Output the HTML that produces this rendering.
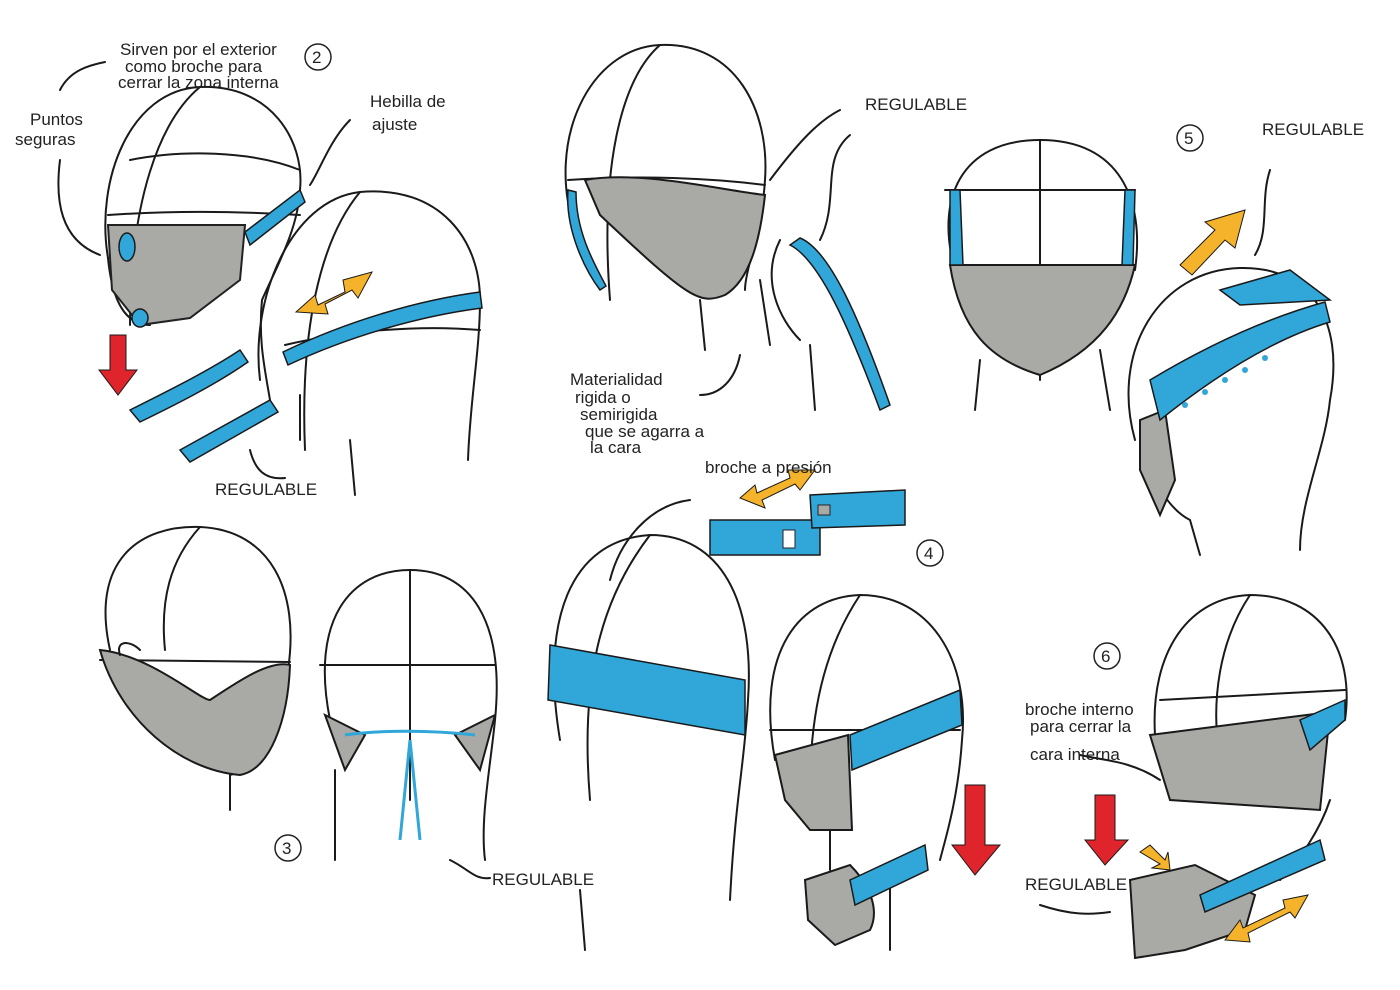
<!DOCTYPE html>
<html><head><meta charset="utf-8"><style>
html,body{margin:0;padding:0;background:#fff;}
svg{display:block;}
text{font-family:"Liberation Sans",sans-serif;fill:#222;font-size:17px;}
</style></head><body>
<svg width="1400" height="990" viewBox="0 0 1400 990" xmlns="http://www.w3.org/2000/svg">
<defs>
<marker id="d" viewBox="0 0 10 10" refX="5" refY="5" markerWidth="1" markerHeight="1"></marker>
</defs>
<rect width="1400" height="990" fill="#fff"/>
<g fill="none" stroke="#1a1a1a" stroke-width="2" stroke-linecap="round">

<!-- Head 1 -->
<path d="M108,258 C95,180 130,90 200,87 C270,84 305,140 300,190 C298,230 275,270 262,300 C258,340 265,370 270,400"/>
<path d="M200,87 C160,120 130,200 130,325 M130,160 C180,150 250,150 300,170 M108,215 C180,210 250,212 300,215"/>
<path d="M108,258 C112,300 125,325 150,325"/>
<path d="M108,225 L245,225 L240,280 L190,318 L140,325 L112,290 Z" fill="#a9a9a5" stroke="#222"/>
<!-- Head 2 -->
<path d="M260,380 C250,300 290,200 360,192 C440,185 480,240 480,300 C480,350 470,400 468,460"/>
<path d="M360,192 C320,240 300,330 305,450 M285,345 C350,330 420,325 480,330"/>
<path d="M350,440 L355,495 M300,395 L300,440"/>
<!-- Head 3 -->
<path d="M575,230 C545,140 590,48 660,45 C735,42 770,110 765,180 C762,230 745,270 745,290"/>
<path d="M660,45 C620,80 600,170 610,300 M568,180 C640,175 710,178 765,185 M700,300 L705,350 M760,280 L770,345"/>
<path d="M585,180 C640,170 720,190 765,195 C760,240 750,280 725,295 C700,305 690,300 600,215 Z" fill="#a9a9a5"/>
<path d="M780,240 C760,280 780,320 800,340 M810,345 L815,410 M770,180 C800,140 820,120 840,110"/>
<!-- Head 4 -->
<path d="M955,270 C935,200 960,140 1040,140 C1120,140 1145,200 1135,270"/>
<path d="M1040,140 L1040,380 M945,190 L1135,190 M950,265 L1135,265 M980,360 L975,410 M1100,350 L1110,410"/>
<path d="M950,265 L1135,265 C1125,310 1100,350 1040,375 C990,360 960,330 950,265 Z" fill="#a9a9a5"/>
<!-- Head 5 -->
<path d="M1135,440 C1110,350 1160,270 1240,268 C1310,266 1345,320 1330,400 C1325,450 1300,500 1300,550"/>
<path d="M1140,440 C1150,480 1170,510 1190,520 L1200,555"/>
<path d="M1140,420 L1165,410 L1175,480 L1160,515 L1140,470 Z" fill="#a9a9a5"/>
<!-- Head 6 -->
<path d="M110,650 C90,560 140,525 200,527 C270,530 300,590 288,670 C285,720 250,770 230,775 L230,810"/>
<path d="M200,527 C170,560 160,600 165,650 M100,660 L290,662"/>
<path d="M100,650 C150,655 200,700 210,700 C240,680 270,660 290,665 C288,720 270,770 240,775 C180,770 120,720 100,650 Z" fill="#a9a9a5"/>
<path d="M120,655 C115,640 130,640 140,650"/>
<!-- Head 7 -->
<path d="M330,720 C310,620 350,570 410,570 C470,570 505,620 495,720 C490,770 480,820 485,860"/>
<path d="M410,570 L410,800 M320,665 L495,665 M335,770 L335,860"/>
<path d="M325,715 L365,735 L345,770 Z M495,715 L455,735 L480,770 Z" fill="#a9a9a5"/>
<!-- Head 8 -->
<path d="M560,740 C540,620 570,540 650,535 C720,535 755,600 748,700 C745,760 735,800 730,900"/>
<path d="M650,535 C600,600 580,680 590,800 M580,890 L585,950"/>
<!-- Head 9 -->
<path d="M775,760 C755,650 800,597 860,595 C930,595 970,660 962,740 C958,800 945,840 940,860"/>
<path d="M860,595 C830,640 810,700 810,790 M770,730 L960,730 M830,830 L830,870 M890,880 L890,950"/>
<path d="M775,755 L848,735 L852,830 L810,830 L785,800 Z" fill="#a9a9a5"/>
<path d="M805,880 L850,865 C870,885 880,910 870,930 L835,945 L808,920 Z" fill="#a9a9a5"/>
<!-- Head 10 -->
<path d="M1155,735 C1150,650 1190,597 1250,595 C1320,595 1355,650 1345,720"/>
<path d="M1250,595 C1220,640 1210,700 1220,760 M1160,700 L1345,690"/>
<path d="M1150,735 L1330,712 L1320,810 L1170,800 Z" fill="#a9a9a5"/>
<path d="M1130,880 L1195,865 L1255,895 L1245,930 L1185,950 L1135,958 Z" fill="#a9a9a5"/>
<path d="M1280,880 C1300,860 1320,830 1330,800"/>
<!-- leader lines -->
<path d="M60,90 C70,70 90,65 105,62 M60,160 C55,200 60,240 100,255 M350,120 C330,140 320,170 310,185 M250,450 C255,470 265,480 285,478 M450,860 C470,870 475,880 490,878 M850,135 C820,160 840,200 820,240 M740,355 C735,380 720,395 700,395 M1270,170 C1260,200 1270,230 1255,255 M690,500 C650,505 620,540 610,580 M1040,905 C1070,915 1090,915 1110,912 M1080,755 C1100,760 1130,760 1160,780"/>
</g>

<!-- blue straps -->
<g fill="#31a6d9" stroke="#1a1a1a" stroke-width="1.5">
<ellipse cx="127" cy="247" rx="8" ry="14"/>
<ellipse cx="140" cy="318" rx="8" ry="9"/>
<path d="M245,232 L300,190 L305,202 L250,245 Z"/>
<path d="M283,352 C350,320 420,300 480,292 L482,308 C420,316 350,336 288,365 Z"/>
<path d="M130,410 C170,390 210,370 240,350 L248,362 C215,385 175,405 140,422 Z"/>
<path d="M180,450 L270,400 L278,412 L190,462 Z"/>
<path d="M568,190 C565,230 585,270 600,290 L606,286 C592,260 576,230 576,192 Z"/>
<path d="M790,245 C820,260 850,330 880,410 L890,405 C860,320 830,250 800,238 Z"/>
<path d="M950,190 L960,190 L963,265 L950,265 Z M1125,190 L1135,190 L1133,265 L1122,265 Z"/>
<path d="M1150,380 C1200,350 1260,320 1325,302 L1330,322 C1270,340 1210,380 1160,420 Z"/>
<path d="M1220,290 L1290,270 L1330,300 L1240,305 Z"/>
<path d="M550,645 L745,680 L745,735 L548,700 Z"/>
<path d="M850,735 L960,690 L962,725 L852,770 Z"/>
<path d="M850,880 L925,845 L928,870 L855,905 Z"/>
<path d="M710,520 L820,520 L820,555 L710,555 Z"/>
<path d="M810,495 L905,490 L905,525 L812,528 Z"/>
<path d="M1300,720 L1345,700 L1345,720 L1310,750 Z"/>
<path d="M1200,895 L1320,840 L1325,860 L1205,912 Z"/>
</g>
<g fill="#31a6d9">
<circle cx="1170" cy="400" r="3"/><circle cx="1190" cy="385" r="3"/><circle cx="1210" cy="370" r="3"/><circle cx="1230" cy="360" r="3"/><circle cx="1250" cy="350" r="3"/><circle cx="1270" cy="340" r="3"/><circle cx="1290" cy="330" r="3"/><circle cx="1185" cy="405" r="3"/><circle cx="1205" cy="392" r="3"/><circle cx="1225" cy="380" r="3"/><circle cx="1245" cy="370" r="3"/><circle cx="1265" cy="358" r="3"/>
</g>
<path d="M345,735 C380,730 430,730 475,735 M410,740 L400,840 M410,740 L420,840" stroke="#31a6d9" stroke-width="3" fill="none"/>
<!-- red arrows -->
<g fill="#e0242b" stroke="#1a1a1a" stroke-width="1">
<path d="M110,335 L126,335 L126,370 L137,370 L118,395 L99,370 L110,370 Z"/>
<path d="M965,785 L985,785 L985,845 L1000,845 L975,875 L952,845 L965,845 Z"/>
<path d="M1095,795 L1115,795 L1115,840 L1128,840 L1105,865 L1085,840 L1095,840 Z"/>
</g>
<!-- orange arrows -->
<g fill="#f4b32a" stroke="#1a1a1a" stroke-width="1">
<path d="M296,312 L315,295 L318,305 L345,292 L343,280 L372,272 L358,298 L352,290 L325,304 L328,314 Z"/>
<path d="M1180,265 L1215,230 L1205,222 L1245,210 L1235,248 L1225,240 L1192,275 Z"/>
<path d="M740,498 L755,485 L757,493 L790,478 L788,470 L815,470 L800,490 L795,484 L762,500 L765,508 Z"/>
<path d="M1225,940 L1240,920 L1243,928 L1285,908 L1283,900 L1308,895 L1295,918 L1290,912 L1248,933 L1250,942 Z"/>
<path d="M1140,852 L1150,845 L1165,860 L1168,852 L1170,870 L1152,868 L1160,864 Z"/>
</g>
<!-- labels -->
<text x="120" y="55" font-size="14">Sirven por el exterior</text>
<text x="125" y="72" font-size="14">como broche para</text>
<text x="118" y="88" font-size="13">cerrar la zona interna</text>
<circle cx="318" cy="57" r="13" fill="none" stroke="#222" stroke-width="1.5"/><text x="312" y="63">2</text>
<text x="30" y="125">Puntos</text><text x="15" y="145">seguras</text>
<text x="370" y="107">Hebilla de</text><text x="372" y="130">ajuste</text>
<text x="215" y="495">REGULABLE</text>
<text x="865" y="110">REGULABLE</text>
<circle cx="1190" cy="138" r="13" fill="none" stroke="#222" stroke-width="1.5"/><text x="1184" y="144">5</text>
<text x="1262" y="135" font-size="19">REGULABLE</text>
<text x="570" y="385" font-size="15">Materialidad</text>
<text x="575" y="403" font-size="15">rigida o</text>
<text x="580" y="420" font-size="15">semirigida</text>
<text x="585" y="437" font-size="15">que se agarra a</text>
<text x="590" y="453" font-size="15">la cara</text>
<text x="705" y="473" font-size="16">broche a presión</text>
<circle cx="930" cy="553" r="13" fill="none" stroke="#222" stroke-width="1.5"/><text x="924" y="559">4</text>
<circle cx="288" cy="848" r="13" fill="none" stroke="#222" stroke-width="1.5"/><text x="282" y="854">3</text>
<text x="492" y="885">REGULABLE</text>
<circle cx="1107" cy="656" r="13" fill="none" stroke="#222" stroke-width="1.5"/><text x="1101" y="662">6</text>
<text x="1025" y="715" font-size="13">broche interno</text>
<text x="1030" y="732" font-size="13">para cerrar la</text>
<text x="1030" y="760" font-size="13">cara interna</text>
<text x="1025" y="890">REGULABLE</text>
<g fill="#a9a9a5" stroke="#222"><rect x="818" y="505" width="12" height="10"/><rect x="783" y="530" width="12" height="18" fill="#fff"/></g>
</svg>
</body></html>
